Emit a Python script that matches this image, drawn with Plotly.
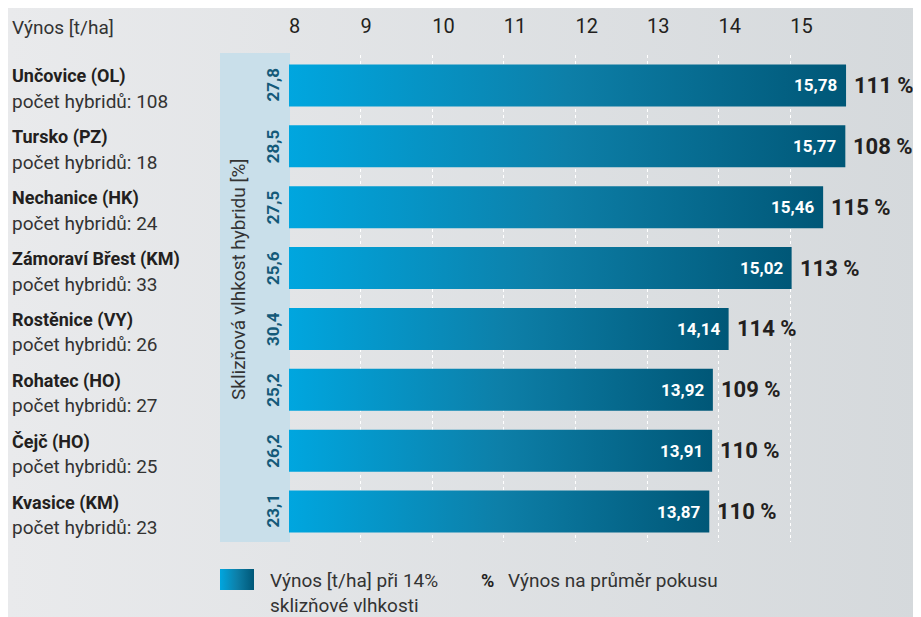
import base64
import plotly.graph_objects as go

# data
lokality = ["Unčovice (OL)", "Tursko (PZ)", "Nechanice (HK)", "Zámoraví Břest (KM)",
            "Rostěnice (VY)", "Rohatec (HO)", "Čejč (HO)", "Kvasice (KM)"]
pocet_hybridu = [108, 18, 24, 33, 26, 27, 25, 23]
vynos = [15.78, 15.77, 15.46, 15.02, 14.14, 13.92, 13.91, 13.87]
vlhkost = [27.8, 28.5, 27.5, 25.6, 30.4, 25.2, 26.2, 23.1]
procento = [111, 108, 115, 113, 114, 109, 110, 110]
osa_ticks = [8, 9, 10, 11, 12, 13, 14, 15]

# the page body adds an 8px margin, so the figure is drawn 8px smaller
OFF = 8
W, H = 921 - OFF, 617 - OFF
FONT = "Roboto"
DARK = "#231f20"
TXT = "#333333"
BAR_SCALE = [[0, "#00a6df"], [0.5, "#0d7fa8"], [1, "#005777"]]
PX_PER_T = 71.6


def cz(v, nd=2):
    return f"{v:.{nd}f}".replace(".", ",")


def px_x(p):
    return (p - OFF) / W


def px_y(p):
    return 1 - (p - OFF) / H


fig = go.Figure()

half = 0.345
for i, v in enumerate(vynos):
    fig.add_trace(go.Scatter(
        x=[osa_ticks[0], v, v, osa_ticks[0], osa_ticks[0]],
        y=[i - half, i - half, i + half, i + half, i - half],
        mode="lines", fill="toself", line=dict(width=0),
        fillgradient=dict(type="horizontal", colorscale=BAR_SCALE),
        hoverinfo="skip", showlegend=False,
    ))

# legend swatch on its own small axes
fig.add_trace(go.Scatter(
    x=[0, 1, 1, 0, 0], y=[0, 0, 1, 1, 0], xaxis="x2", yaxis="y2",
    mode="lines", fill="toself", line=dict(width=0),
    fillgradient=dict(type="horizontal", colorscale=BAR_SCALE),
    hoverinfo="skip", showlegend=False,
))

ann = []
for i, (v, m, p, name, n) in enumerate(zip(vynos, vlhkost, procento, lokality, pocet_hybridu)):
    ann.append(dict(x=v, y=i, text=f"<b>{cz(v)}</b>", xanchor="right", xshift=-7,
                    yanchor="middle", showarrow=False, font=dict(size=17, color="white")))
    ann.append(dict(x=v, y=i, text=f"<b>{p} %</b>", xanchor="left", xshift=6,
                    yanchor="middle", showarrow=False, font=dict(size=22, color=DARK)))
    ann.append(dict(x=px_x(273), xref="paper", y=i, text=f"<b>{cz(m, 1)}</b>",
                    xanchor="center", yanchor="middle", textangle=-90, showarrow=False,
                    font=dict(size=17, color="#145a79")))
    ann.append(dict(x=px_x(10), xref="paper", y=i, yshift=9, text=f"<b>{name}</b>",
                    xanchor="left", yanchor="middle", showarrow=False,
                    font=dict(size=18, color=DARK)))
    ann.append(dict(x=px_x(10), xref="paper", y=i, yshift=-16, text=f"počet hybridů: {n}",
                    xanchor="left", yanchor="middle", showarrow=False,
                    font=dict(size=19, color=TXT)))


def note(x, y, text, size=19, color=TXT, **kw):
    return dict(x=px_x(x), y=px_y(y), xref="paper", yref="paper", text=text,
                xanchor=kw.pop("xanchor", "left"), yanchor="middle", showarrow=False,
                font=dict(size=size, color=color), **kw)


ann += [
    note(10, 28, "Výnos [t/ha]"),
    note(238, 280, "Sklizňová vlhkost hybridu [%]", xanchor="center", textangle=-90),
    note(268, 580, "Výnos [t/ha] při 14%"),
    note(268, 605, "sklizňové vlhkosti"),
    note(479, 580, "<b>%</b>", size=18, color=DARK),
    note(506, 580, "Výnos na průměr pokusu"),
]

svg = (f'<svg xmlns="http://www.w3.org/2000/svg" width="{W}" height="{H}">'
       '<defs><linearGradient id="g" x1="0" y1="0" x2="1" y2="0">'
       '<stop offset="0" stop-color="#e9eaec"/><stop offset="1" stop-color="#d5d9dc"/>'
       '</linearGradient></defs><rect width="100%" height="100%" fill="url(#g)"/></svg>')
bg = "data:image/svg+xml;base64," + base64.b64encode(svg.encode()).decode()

fig.update_layout(
    width=W, height=H,
    margin=dict(l=0, r=0, t=0, b=0),
    paper_bgcolor="#e0e2e4", plot_bgcolor="rgba(0,0,0,0)",
    font=dict(family=FONT, color=DARK),
    showlegend=False,
    xaxis=dict(domain=[px_x(289), 1], range=[8, 8 + (921 - 289) / PX_PER_T], side="top",
               tickvals=osa_ticks, ticktext=[str(t) for t in osa_ticks],
               ticklabelposition="outside right", ticks="", ticklabelstandoff=17,
               tickfont=dict(size=20, color=DARK),
               showgrid=True, gridcolor="white", griddash="dot", gridwidth=1,
               zeroline=False, showline=False, fixedrange=True),
    yaxis=dict(domain=[px_y(542), px_y(55)], range=[7.5, -0.5], visible=False,
               showgrid=False, fixedrange=True),
    xaxis2=dict(domain=[px_x(220), px_x(254)], range=[0, 1], visible=False, anchor="y2"),
    yaxis2=dict(domain=[px_y(590), px_y(569)], range=[0, 1], visible=False, anchor="x2"),
    shapes=[dict(type="rect", xref="paper", yref="paper", x0=px_x(220), x1=px_x(290),
                 y0=px_y(542), y1=px_y(53), fillcolor="#c9dfea", line=dict(width=0),
                 layer="below")],
    images=[dict(source=bg, xref="paper", yref="paper", x=0, y=1, sizex=1, sizey=1,
                 sizing="stretch", layer="below")],
    annotations=ann,
)

fig.write_html("out.html")
